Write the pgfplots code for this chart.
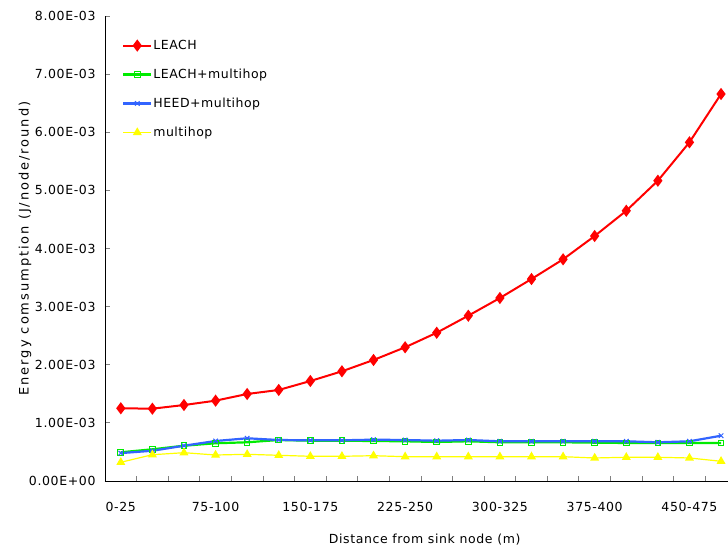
\documentclass[border=0pt]{standalone}
\usepackage{fontspec}
\setmainfont{DejaVu Sans}
\usepackage{pgfplots}
\usepackage{pgfplotstable}
\pgfplotsset{compat=1.18}
\definecolor{cred}{RGB}{255,0,0}
\definecolor{cgreen}{RGB}{0,235,0}
\definecolor{cblue}{RGB}{50,100,255}
\definecolor{cyellow}{RGB}{255,255,0}
\pgfplotstableread{
x leach leachmh heedmh mh
0 1.251e-3 0.494e-3 0.480e-3 0.322e-3
1 1.244e-3 0.545e-3 0.520e-3 0.452e-3
2 1.307e-3 0.607e-3 0.607e-3 0.487e-3
3 1.382e-3 0.649e-3 0.688e-3 0.447e-3
4 1.497e-3 0.666e-3 0.735e-3 0.459e-3
5 1.566e-3 0.705e-3 0.705e-3 0.442e-3
6 1.720e-3 0.693e-3 0.700e-3 0.425e-3
7 1.887e-3 0.693e-3 0.700e-3 0.425e-3
8 2.082e-3 0.688e-3 0.711e-3 0.435e-3
9 2.300e-3 0.683e-3 0.705e-3 0.418e-3
10 2.551e-3 0.671e-3 0.693e-3 0.418e-3
11 2.844e-3 0.683e-3 0.705e-3 0.418e-3
12 3.148e-3 0.666e-3 0.683e-3 0.418e-3
13 3.475e-3 0.666e-3 0.683e-3 0.418e-3
14 3.814e-3 0.666e-3 0.683e-3 0.418e-3
15 4.215e-3 0.659e-3 0.683e-3 0.396e-3
16 4.649e-3 0.654e-3 0.683e-3 0.408e-3
17 5.166e-3 0.654e-3 0.666e-3 0.408e-3
18 5.827e-3 0.654e-3 0.683e-3 0.396e-3
19 6.658e-3 0.654e-3 0.779e-3 0.339e-3
}\data
\begin{document}
\begin{tikzpicture}
\begin{axis}[
  scale only axis,
  width=623pt, height=465pt,
  xmin=-0.5, xmax=19.22,
  ymin=0, ymax=0.008,
  axis x line*=bottom, axis y line*=left,
  axis line style={line width=0.8pt},
  scaled y ticks=false,
  xtick={0,3,6,9,12,15,18},
  xticklabels={0-25,75-100,150-175,225-250,300-325,375-400,450-475},
  major x tick style={draw=none},
  minor xtick={0.5,1.5,...,18.5},
  minor tick length=5pt,
  minor x tick style={line width=0.8pt},
  xtick pos=bottom, ytick pos=left,
  ytick={0,0.001,0.002,0.003,0.004,0.005,0.006,0.007,0.008},
  yticklabels={0.00E+00,1.00E-03,2.00E-03,3.00E-03,4.00E-03,5.00E-03,6.00E-03,7.00E-03,8.00E-03},
  major tick length=5pt,
  tick align=inside,
  ytick style={line width=0.8pt},
  ticklabel style={font=\fontsize{12.5}{14}\selectfont\addfontfeatures{LetterSpace=5}},
  xticklabel style={anchor=center, yshift=-26pt},
  yticklabel style={anchor=east, xshift=-6pt},
  xlabel={Distance from sink node (m)},
  ylabel={Energy comsumption (J/node/round)},
  xlabel style={font=\fontsize{12.5}{14}\selectfont\addfontfeatures{LetterSpace=5},
    at={(rel axis cs:0.513,0)}, anchor=center, yshift=-59pt},
  ylabel style={font=\fontsize{13}{15}\selectfont\addfontfeatures{LetterSpace=15},
    at={(rel axis cs:-0.1284,0.5)}, anchor=center},
  legend cell align=left,
  legend style={at={(rel axis cs:0,1)}, anchor=north west, xshift=14pt, yshift=-21pt,
    draw=none, fill=none, font=\fontsize{12.5}{14}\selectfont\addfontfeatures{LetterSpace=4}, row sep=16pt,
    nodes={inner sep=1pt}},
  legend image code/.code={\draw[mark repeat=2,mark phase=2,#1] plot coordinates {(0pt,0pt)(14pt,0pt)(28pt,0pt)};},
]
\addplot[cred, line width=2pt, mark=diamond*, mark size=4.5pt, mark options={solid,fill=cred}] table[x=x,y=leach] {\data};
\addlegendentry{LEACH}
\addplot[cgreen, line width=2.2pt, mark=square, mark size=2.8pt, mark options={solid,line width=1pt}] table[x=x,y=leachmh] {\data};
\addlegendentry{LEACH+multihop}
\addplot[cblue, line width=2.2pt, mark=x, mark size=3.2pt, mark options={solid,line width=1pt}] table[x=x,y=heedmh] {\data};
\addlegendentry{HEED+multihop}
\addplot[cyellow, line width=1.2pt, mark=triangle*, mark size=4pt, mark options={solid,fill=cyellow}] table[x=x,y=mh] {\data};
\addlegendentry{multihop}
\coordinate (bl) at (rel axis cs:0,0);
\coordinate (tr) at (rel axis cs:1,1);
\end{axis}
\pgfresetboundingbox
\path[use as bounding box] ([shift={(-105pt,-71pt)}]bl) rectangle ([shift={(0pt,16pt)}]tr);
\end{tikzpicture}
\end{document}
